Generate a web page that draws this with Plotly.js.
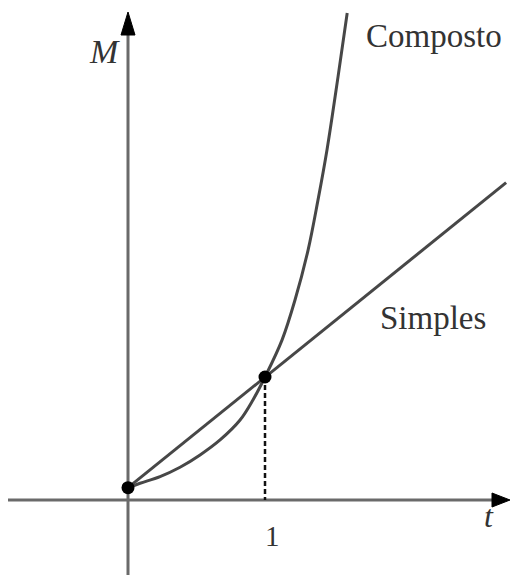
<!DOCTYPE html>
<html><head><meta charset="utf-8">
<script src="https://cdn.plot.ly/plotly-3.0.1.min.js"></script>
<style>html,body{margin:0;padding:0;background:#fff;}#chart{width:510px;height:575px;}</style>
</head><body><div id="chart"></div>
<script>
// Data (t in units of the period, M relative to M(1)=1)
const tCompound = [0, 0.088, 0.234, 0.380, 0.526, 0.672, 0.818, 0.912, 1.0, 1.124, 1.219, 1.314, 1.387, 1.453, 1.533, 1.60];
const mCompound = [0.10, 0.136, 0.190, 0.266, 0.366, 0.488, 0.650, 0.813, 1.0, 1.30, 1.626, 2.03, 2.44, 2.85, 3.44, 3.96];
const tSimple = [0, 1, 2.76];
const mSimple = [0.10, 1.0, 2.58];
const tPoints = [0, 1];
const mPoints = [0.10, 1.0];
const tickLabel = "1";

// pixel <-> data helpers (layout geometry)
const W = 510, H = 575;
const x0px = 128, pxPerT = 137, y0px = 500, pxPerM = 123;
const X = px => (px - x0px) / pxPerT;
const Y = py => (y0px - py) / pxPerM;

const lineCol = '#474747';
const axisCol = '#6a6a6a';

const traces = [
  {x: tCompound, y: mCompound, mode: 'lines', line: {color: lineCol, width: 3, shape: 'spline', smoothing: 1}, hoverinfo: 'skip'},
  {x: tSimple, y: mSimple, mode: 'lines', line: {color: lineCol, width: 3}, hoverinfo: 'skip'},
  {x: [tPoints[1], tPoints[1]], y: [mPoints[1], 0], mode: 'lines', line: {color: '#111', width: 2.5, dash: '5px,3px'}, hoverinfo: 'skip'},
  {x: tPoints, y: mPoints, mode: 'markers', marker: {color: '#000', size: 13}, hoverinfo: 'skip'}
];

const shapes = [
  {type: 'line', xref: 'x', yref: 'y', x0: X(8), x1: X(496), y0: 0, y1: 0, line: {color: axisCol, width: 3}, layer: 'below'},
  {type: 'line', xref: 'x', yref: 'y', x0: 0, x1: 0, y0: Y(575), y1: Y(30), line: {color: axisCol, width: 3}, layer: 'below'},
  {type: 'path', xref: 'x', yref: 'y',
   path: `M ${X(510)} ${Y(500)} L ${X(492)} ${Y(493)} L ${X(492)} ${Y(507)} Z`,
   fillcolor: '#000', line: {color: '#000', width: 1}},
  {type: 'path', xref: 'x', yref: 'y',
   path: `M ${X(128)} ${Y(12)} L ${X(121)} ${Y(35)} L ${X(135)} ${Y(35)} Z`,
   fillcolor: '#000', line: {color: '#000', width: 1}}
];

const serif = "'Liberation Serif', 'DejaVu Serif', 'Times New Roman', serif";
const annotations = [
  {x: X(434), y: Y(36), xref: 'x', yref: 'y', text: 'Composto', showarrow: false, font: {family: serif, size: 33, color: '#333'}},
  {x: X(433), y: Y(318), xref: 'x', yref: 'y', text: 'Simples', showarrow: false, font: {family: serif, size: 33, color: '#333'}},
  {x: X(104), y: Y(51), xref: 'x', yref: 'y', text: '<i>M</i>', showarrow: false, font: {family: serif, size: 34, color: '#333'}},
  {x: X(489), y: Y(516), xref: 'x', yref: 'y', text: '<i>t</i>', showarrow: false, font: {family: serif, size: 32, color: '#333'}},
  {x: tPoints[1] + X(272) - X(265), y: Y(536), xref: 'x', yref: 'y', text: tickLabel, showarrow: false, font: {family: serif, size: 29, color: '#333'}}
];

const layout = {
  width: W, height: H,
  margin: {l: 0, r: 0, t: 0, b: 0, pad: 0},
  paper_bgcolor: '#fff', plot_bgcolor: '#fff',
  showlegend: false,
  xaxis: {range: [X(0), X(W)], visible: false, fixedrange: true},
  yaxis: {range: [Y(H), Y(0)], visible: false, fixedrange: true},
  shapes: shapes,
  annotations: annotations
};

Plotly.newPlot('chart', traces, layout, {displayModeBar: false, staticPlot: true});
</script>
</body></html>
